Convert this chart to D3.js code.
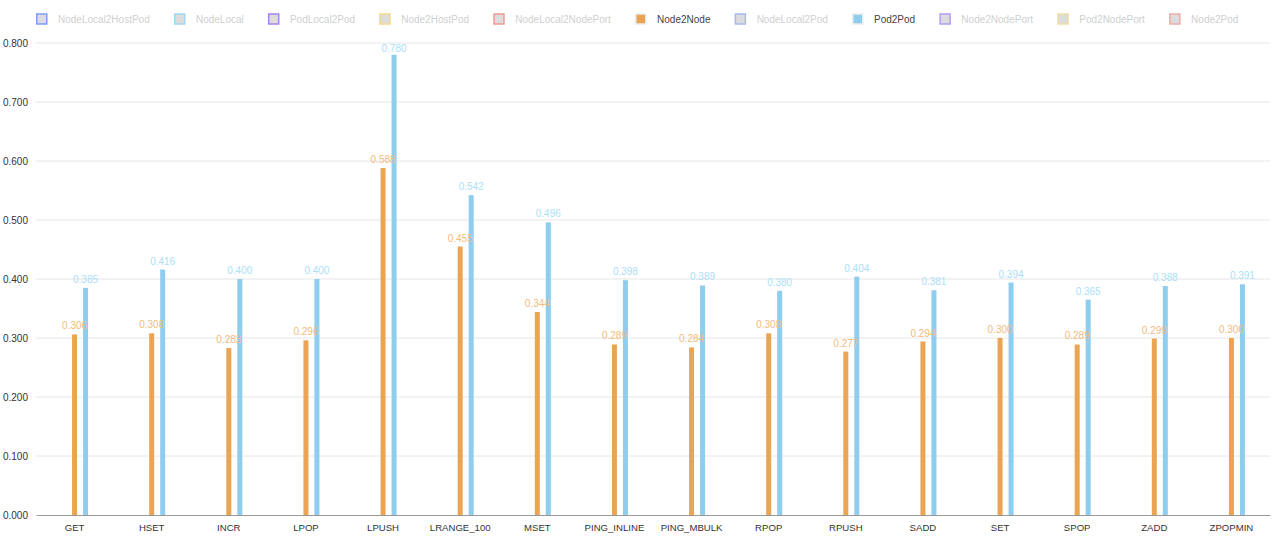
<!DOCTYPE html>
<html>
<head>
<meta charset="utf-8">
<script src="https://cdn.jsdelivr.net/npm/d3@7"></script>
<style>
  html, body { margin: 0; padding: 0; background: #fff; }
  text { font-family: "Liberation Sans", Helvetica, Arial, sans-serif; }
</style>
</head>
<body>
<div id="chart"></div>
<script>
// categories (redis benchmark commands)
const categories = ['GET', 'HSET', 'INCR', 'LPOP', 'LPUSH', 'LRANGE_100', 'MSET', 'PING_INLINE',
  'PING_MBULK', 'RPOP', 'RPUSH', 'SADD', 'SET', 'SPOP', 'ZADD', 'ZPOPMIN'];

const node2node = [0.306, 0.308, 0.283, 0.296, 0.588, 0.455, 0.344, 0.289,
  0.284, 0.308, 0.277, 0.294, 0.300, 0.289, 0.299, 0.300];
const pod2pod = [0.385, 0.416, 0.400, 0.400, 0.780, 0.542, 0.496, 0.398,
  0.389, 0.380, 0.404, 0.381, 0.394, 0.365, 0.388, 0.391];

// legend entries, only two of them are switched on
const legendNames = ['NodeLocal2HostPod', 'NodeLocal', 'PodLocal2Pod', 'Node2HostPod', 'NodeLocal2NodePort',
  'Node2Node', 'NodeLocal2Pod', 'Pod2Pod', 'Node2NodePort', 'Pod2NodePort', 'Node2Pod'];
const legendColors = ['#7d9cf5', '#9fd7f2', '#a584ee', '#f2d88f', '#ee9a95',
  '#eba454', '#a9b8f5', '#8ecdee', '#b39cf2', '#f2dc9f', '#f0aaa8'];
const activeSeries = ['Node2Node', 'Pod2Pod'];

const yTicks = [0, 0.1, 0.2, 0.3, 0.4, 0.5, 0.6, 0.7, 0.8];

const width = 1280, height = 540;
const margin = { top: 43, right: 10, bottom: 25, left: 36 };

const svg = d3.select('#chart')
  .append('svg')
  .attr('width', width)
  .attr('height', height);

const x = d3.scaleBand()
  .domain(categories)
  .range([margin.left, width - margin.right]);

// bars sit from the band centre to the right, like the original
const xInner = d3.scaleBand()
  .domain(activeSeries)
  .range([-2.5, 13.5])
  .paddingInner(0.545);

const y = d3.scaleLinear()
  .domain([0, 0.8])
  .range([height - margin.bottom, margin.top]);

// grid lines
svg.append('g')
  .selectAll('line')
  .data(yTicks.slice(1))
  .enter()
  .append('line')
  .attr('x1', margin.left)
  .attr('x2', width - margin.right)
  .attr('y1', d => y(d))
  .attr('y2', d => y(d))
  .attr('stroke', '#e6e6e6')
  .attr('stroke-width', 1);

// y axis labels
const yAxis = svg.append('g')
  .attr('transform', `translate(${margin.left - 8},0)`)
  .call(d3.axisLeft(y).tickValues(yTicks).tickFormat(d3.format('.3f')).tickSize(0).tickPadding(0));
yAxis.select('.domain').remove();
yAxis.selectAll('text')
  .attr('font-size', 10)
  .attr('fill', '#333');

// x axis
const xAxis = svg.append('g')
  .attr('transform', `translate(0,${y(0)})`)
  .call(d3.axisBottom(x).tickSize(0).tickPadding(9));
xAxis.select('.domain').attr('stroke', '#999');
xAxis.selectAll('text')
  .attr('font-size', 9.6)
  .attr('fill', '#333');

const seriesData = [
  { name: 'Node2Node', values: node2node, color: '#eba454', label: '#f1bb7e' },
  { name: 'Pod2Pod', values: pod2pod, color: '#8ecdee', label: '#ace0f7' }
];

const barLayer = svg.append('g');
const labelLayer = svg.append('g');

seriesData.forEach(s => {
  const rows = categories.map((c, i) => ({ c, v: s.values[i] }));

  barLayer.append('g')
    .selectAll('rect')
    .data(rows)
    .enter()
    .append('rect')
    .attr('x', d => x(d.c) + x.bandwidth() / 2 + xInner(s.name))
    .attr('width', xInner.bandwidth())
    .attr('y', d => y(d.v))
    .attr('height', d => y(0) - y(d.v))
    .attr('fill', s.color);

  // labels go on top of every bar, kept inside the plot at the top
  labelLayer.append('g')
    .selectAll('text')
    .data(rows)
    .enter()
    .append('text')
    .attr('x', d => x(d.c) + x.bandwidth() / 2 + xInner(s.name) + xInner.bandwidth() / 2)
    .attr('y', d => Math.max(y(d.v) - 5, margin.top + 9))
    .attr('text-anchor', 'middle')
    .attr('font-size', 10)
    .attr('fill', s.label)
    .text(d => d3.format('.3f')(d.v));
});

// legend
const legend = svg.append('g').attr('transform', 'translate(36,19)');
let lx = 0;
legendNames.forEach((name, i) => {
  const on = activeSeries.includes(name);
  const item = legend.append('g').attr('transform', `translate(${lx},0)`);
  item.append('rect')
    .attr('x', 0.75)
    .attr('y', -5)
    .attr('width', 10)
    .attr('height', 10)
    .attr('fill', on ? legendColors[i] : '#dcdcdc')
    .attr('stroke', on ? '#ececec' : legendColors[i])
    .attr('stroke-width', 1.5);
  const t = item.append('text')
    .attr('x', 22)
    .attr('y', 3.5)
    .attr('font-size', 10)
    .attr('fill', on ? '#444' : '#cfcfcf')
    .text(name);
  lx += 22 + t.node().getComputedTextLength() + 24.2;
});
</script>
</body>
</html>
